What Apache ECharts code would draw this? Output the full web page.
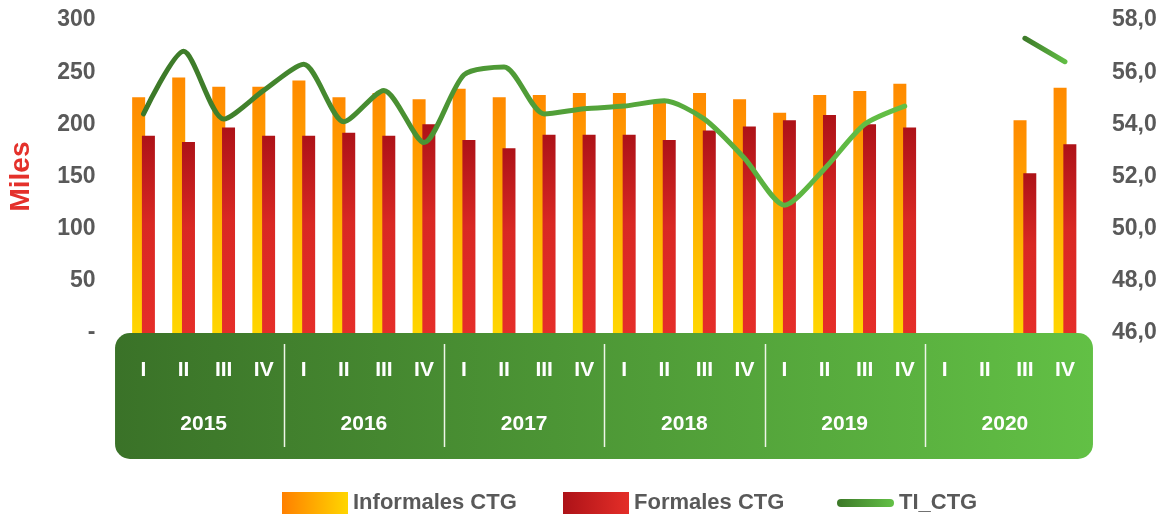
<!DOCTYPE html>
<html>
<head>
<meta charset="utf-8">
<script src="https://cdn.jsdelivr.net/npm/echarts@6/dist/echarts.min.js"></script>
<style>
  html, body { margin: 0; padding: 0; background: #fff; }
  #chart { width: 1163px; height: 516px; }
</style>
</head>
<body>
<div id="chart"></div>
<script>
// trimestres y años
const quarters = ['I', 'II', 'III', 'IV', 'I', 'II', 'III', 'IV', 'I', 'II', 'III', 'IV',
                  'I', 'II', 'III', 'IV', 'I', 'II', 'III', 'IV', 'I', 'II', 'III', 'IV'];
const years = ['2015', '2016', '2017', '2018', '2019', '2020'];

// miles de personas
const informales = [226, 245, 236, 236, 242, 226, 230, 224, 234, 226, 228, 230,
                    230, 222, 230, 224, 211, 228, 232, 239, null, null, 204, 235];
const formales = [189, 183, 197, 189, 189, 192, 189, 200, 185, 177, 190, 190,
                  190, 185, 194, 198, 204, 209, 200, 197, null, null, 153, 181];
// tasa de informalidad (eje derecho)
const tiCtg = [54.4, 56.8, 54.2, 55.3, 56.3, 54.1, 55.3, 53.3, 55.9, 56.2, 54.4, 54.6,
               54.7, 54.9, 54.2, 52.7, 50.9, 52.3, 54.0, 54.7, null, null, 57.3, 56.4];

const FONT = "'Liberation Sans', Arial, sans-serif";
const GRAY = '#595959';

function gradH(a, b) {
  return new echarts.graphic.LinearGradient(0, 0, 1, 0, [
    { offset: 0, color: a },
    { offset: 1, color: b }
  ]);
}

const lineColor = gradH('#3c7828', '#63c046');
const legendText = { color: GRAY, fontFamily: FONT, fontWeight: 'bold', fontSize: 22 };

const chart = echarts.init(document.getElementById('chart'));

chart.setOption({
  animation: false,
  grid: { left: 123.5, right: 78, top: 20, bottom: 183, outerBoundsMode: 'none' },
  legend: [
    {
      left: 282, top: 492, padding: 0, itemWidth: 66, itemHeight: 22,
      textStyle: legendText, selectedMode: false,
      data: [{ name: 'Informales CTG', icon: 'rect', itemStyle: { color: gradH('#ff8000', '#ffd600') } }]
    },
    {
      left: 563, top: 492, padding: 0, itemWidth: 66, itemHeight: 22,
      textStyle: legendText, selectedMode: false,
      data: [{ name: 'Formales CTG', icon: 'rect', itemStyle: { color: gradH('#ad1218', '#e42e28') } }]
    },
    {
      left: 837, top: 492, padding: 0, itemWidth: 57, itemHeight: 8,
      textStyle: legendText, selectedMode: false,
      data: [{
        name: 'TI_CTG',
        icon: 'path://M4,0H53A4,4,0,0,1,53,8H4A4,4,0,0,1,4,0Z',
        itemStyle: { color: gradH('#3c7828', '#63c046') }
      }]
    }
  ],
  xAxis: [
    {
      type: 'category',
      data: quarters,
      position: 'bottom',
      z: 10,
      axisLine: { show: false },
      axisTick: { show: false },
      axisLabel: {
        interval: 0, margin: 27, color: '#fff',
        fontFamily: FONT, fontWeight: 'bold', fontSize: 21
      }
    },
    {
      type: 'category',
      data: years,
      position: 'bottom',
      z: 10,
      axisLine: { show: false },
      axisTick: { show: false },
      axisLabel: {
        interval: 0, margin: 81, color: '#fff',
        fontFamily: FONT, fontWeight: 'bold', fontSize: 21
      }
    }
  ],
  yAxis: [
    {
      type: 'value',
      min: 0, max: 300, interval: 50,
      name: 'Miles',
      nameLocation: 'middle',
      nameRotate: 90,
      nameGap: 88,
      nameTextStyle: { color: '#e4312b', fontFamily: FONT, fontWeight: 'bold', fontSize: 28 },
      axisLine: { show: false },
      axisTick: { show: false },
      splitLine: { show: false },
      axisLabel: {
        margin: 28, color: GRAY, fontFamily: FONT, fontWeight: 'bold', fontSize: 23,
        formatter: v => (v === 0 ? '-' : v)
      }
    },
    {
      type: 'value',
      position: 'right',
      min: 46, max: 58, interval: 2,
      axisLine: { show: false },
      axisTick: { show: false },
      splitLine: { show: false },
      axisLabel: {
        margin: 27, color: GRAY, fontFamily: FONT, fontWeight: 'bold', fontSize: 23,
        formatter: v => v.toFixed(1).replace('.', ',')
      }
    }
  ],
  series: [
    {
      name: 'Informales CTG',
      type: 'bar',
      barWidth: 13,
      barGap: '-25%',
      data: informales,
      itemStyle: {
        color: new echarts.graphic.LinearGradient(0, 0, 0, 1, [
          { offset: 0, color: '#ff8a00' },
          { offset: 1, color: '#ffd600' }
        ])
      }
    },
    {
      name: 'Formales CTG',
      type: 'bar',
      barWidth: 13,
      data: formales,
      itemStyle: {
        color: new echarts.graphic.LinearGradient(0, 0, 0, 1, [
          { offset: 0, color: '#ad1218' },
          { offset: 0.45, color: '#d92823' },
          { offset: 1, color: '#e52e29' }
        ])
      }
    },
    {
      // 2015 - 2019
      name: 'TI_CTG',
      type: 'line',
      yAxisIndex: 1,
      symbol: 'none',
      smooth: 0.25,
      z: 5,
      data: tiCtg.map((v, i) => (i < 20 ? v : null)),
      itemStyle: { color: lineColor },
      lineStyle: { width: 5, cap: 'round', join: 'round', color: lineColor }
    },
    {
      // 2020
      name: 'TI_CTG',
      type: 'line',
      yAxisIndex: 1,
      symbol: 'none',
      smooth: 0.25,
      z: 5,
      data: tiCtg.map((v, i) => (i >= 20 ? v : null)),
      itemStyle: { color: lineColor },
      lineStyle: { width: 5, cap: 'round', join: 'round', color: gradH('#3c7828', '#63c046') }
    }
  ]
});

// caja verde del eje x y separadores de años
const px = i => chart.convertToPixel({ xAxisIndex: 0 }, i);
const baseY = chart.convertToPixel({ yAxisIndex: 0 }, 0);
const boxLeft = px(0) - 28.5;
const boxRight = px(quarters.length - 1) + 28;
const graphics = [{
  type: 'rect',
  z: -10,
  shape: { x: boxLeft, y: baseY, width: boxRight - boxLeft, height: 126, r: 15 },
  style: { fill: gradH('#3a7228', '#62c045') }
}];
for (let k = 1; k < years.length; k++) {
  const x = Math.round((px(4 * k - 1) + px(4 * k)) / 2) + 0.5;
  graphics.push({
    type: 'line',
    z: -5,
    shape: { x1: x, y1: baseY + 11, x2: x, y2: baseY + 114 },
    style: { stroke: '#eef5e8', lineWidth: 1.5 }
  });
}
chart.setOption({ graphic: graphics });
</script>
</body>
</html>
